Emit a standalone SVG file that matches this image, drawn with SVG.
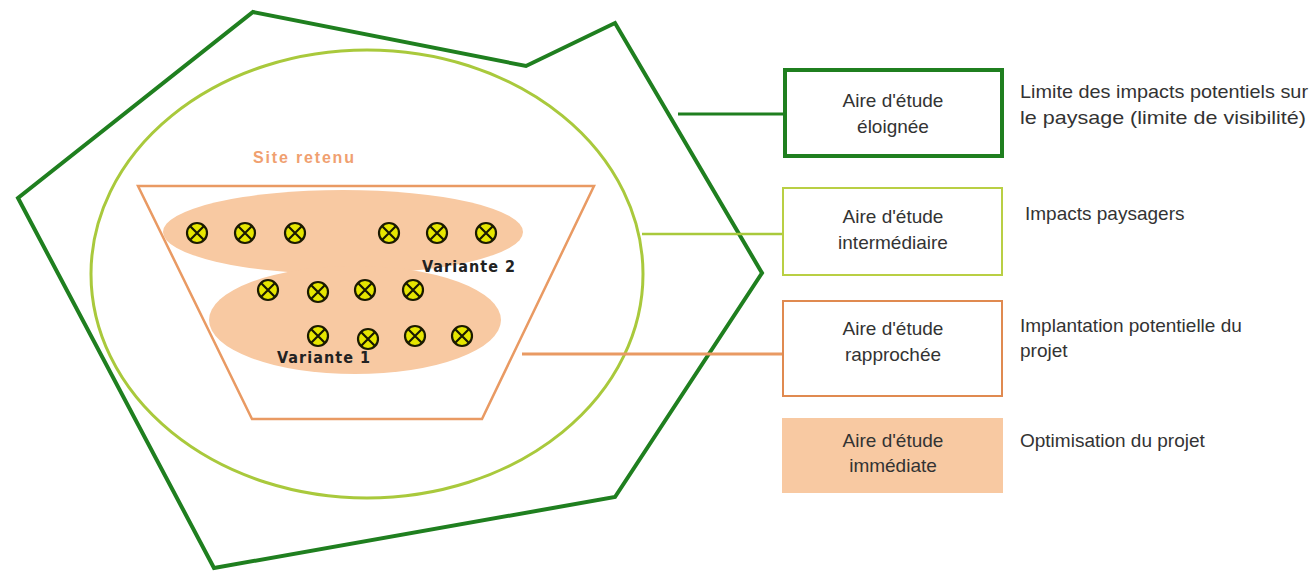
<svg xmlns="http://www.w3.org/2000/svg" width="1313" height="573" viewBox="0 0 1313 573">
<defs>
<style>
.dg{fill:none;stroke:#1f7f1f;stroke-width:4;stroke-linejoin:miter}
.yg{fill:none;stroke:#a9c93c;stroke-width:3}
.or{fill:none;stroke:#e99a63;stroke-width:2.5}
.peach{fill:#f8c9a2;stroke:none}
.lbl{font-family:"Liberation Sans",Arial,sans-serif;font-size:19px;fill:#333;text-anchor:middle}
.desc{font-family:"Liberation Sans",Arial,sans-serif;font-size:19px;fill:#333}
.var{font-family:"DejaVu Sans Condensed","Liberation Sans",sans-serif;font-weight:bold;font-size:16px;fill:#222}
</style>
<g id="mk">
<circle r="10" fill="#e6e600" stroke="#1a1a00" stroke-width="2.2"/>
<path d="M-7,-7L7,7M7,-7L-7,7" stroke="#1a1a00" stroke-width="2.2"/>
</g>
</defs>
<rect width="1313" height="573" fill="#fff"/>

<g id="aire-eloignee-zone">
<polygon class="dg" points="253,12 526,66 615,23 762,273 615,497 214,568 18,198"/>
</g>
<g id="aire-intermediaire-zone">
<ellipse class="yg" cx="367" cy="274" rx="276" ry="224"/>
</g>
<g id="site-retenu">
<polygon class="or" points="138,186 594,186 482,419 252,419"/>
<text x="253" y="163" font-family="'Liberation Sans',Arial,sans-serif" font-weight="bold" font-size="16" fill="#f0a070" textLength="101">Site retenu</text>
</g>
<g id="variante-2">
<ellipse class="peach" cx="343" cy="232" rx="180" ry="42"/>
</g>
<g id="variante-1">
<ellipse class="peach" cx="355" cy="320" rx="146" ry="54"/>
</g>
<g id="eoliennes">
<use href="#mk" x="197" y="233"/>
<use href="#mk" x="245" y="233"/>
<use href="#mk" x="295" y="233"/>
<use href="#mk" x="389" y="233"/>
<use href="#mk" x="437" y="233"/>
<use href="#mk" x="486" y="233"/>
<use href="#mk" x="268" y="290"/>
<use href="#mk" x="318" y="292"/>
<use href="#mk" x="365" y="290"/>
<use href="#mk" x="413" y="290"/>
<use href="#mk" x="318" y="336"/>
<use href="#mk" x="368" y="339"/>
<use href="#mk" x="415" y="336"/>
<use href="#mk" x="462" y="336"/>
</g>
<text class="var" x="422" y="272" textLength="93">Variante 2</text>
<text class="var" x="277" y="363" textLength="93">Variante 1</text>

<g id="connectors">
<line x1="678" y1="114" x2="784" y2="114" stroke="#1f7f1f" stroke-width="3"/>
<line x1="642" y1="234" x2="782" y2="234" stroke="#a9c93c" stroke-width="2.5"/>
<line x1="522" y1="354" x2="782" y2="354" stroke="#e99a63" stroke-width="3"/>
</g>

<g id="legend-eloignee">
<rect x="785" y="70" width="217" height="86" fill="#fff" stroke="#1f7f1f" stroke-width="4"/>
<text class="lbl" x="893" y="107">Aire d'étude</text>
<text class="lbl" x="893" y="133">éloignée</text>
<text class="desc" x="1020" y="98" textLength="288" lengthAdjust="spacingAndGlyphs">Limite des impacts potentiels sur</text>
<text class="desc" x="1020" y="124" textLength="286" lengthAdjust="spacingAndGlyphs">le paysage (limite de visibilité)</text>
</g>
<g id="legend-intermediaire">
<rect x="783" y="188" width="219" height="87" fill="#fff" stroke="#b9cf44" stroke-width="2"/>
<text class="lbl" x="893" y="223">Aire d'étude</text>
<text class="lbl" x="893" y="249">intermédiaire</text>
<text class="desc" x="1025" y="220">Impacts paysagers</text>
</g>
<g id="legend-rapprochee">
<rect x="783" y="301" width="219" height="95" fill="#fff" stroke="#e08a50" stroke-width="2"/>
<text class="lbl" x="893" y="335">Aire d'étude</text>
<text class="lbl" x="893" y="361">rapprochée</text>
<text class="desc" x="1020" y="332">Implantation potentielle du</text>
<text class="desc" x="1020" y="357">projet</text>
</g>
<g id="legend-immediate">
<rect x="782" y="418" width="221" height="75" fill="#f8c9a2"/>
<text class="lbl" x="893" y="447">Aire d'étude</text>
<text class="lbl" x="893" y="472">immédiate</text>
<text class="desc" x="1020" y="447">Optimisation du projet</text>
</g>
</svg>
